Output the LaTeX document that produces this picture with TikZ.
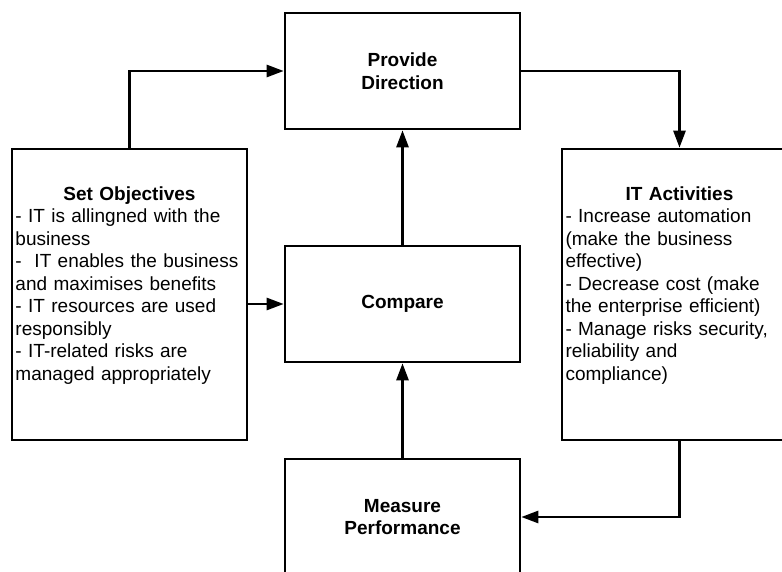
\documentclass[tikz,border=0pt]{standalone}
\RequirePackage{fontspec}
\setmainfont{Liberation Sans}
\RequirePackage{tikz}
\usetikzlibrary{arrows.meta}
\hyphenpenalty=10000

\begin{document}
\begin{tikzpicture}[x=1pt,y=-1pt,
                box/.style={draw,line width=2.6pt,minimum width=235pt,minimum height=116pt,
                    inner sep=3.5pt,align=center,font=\fontsize{19}{22.5}\selectfont\bfseries},
                tallbox/.style={draw,line width=2.6pt,minimum height=291pt,text width=228pt,
                    inner sep=3.5pt,align=left,font=\fontsize{19}{22.5}\selectfont},
                arr/.style={line width=2.6pt,-{Triangle[length=17pt,width=12pt]}}]
                \useasboundingbox (0,0) rectangle (782,572);
                \clip (0,0) rectangle (782,572);

                \foreach \N/\y/\T in{provide/71/{Provide\\Direction},compare/304/{Compare},measure/517/{Measure\\Performance}}
                {
                    \node[box] (\N) at (402.5,\y) {\T};
                }

                \node[tallbox] (setobj) at (129.5,294.5) {\hfill\textbf{Set Objectives}\hfill\null\\
                    - IT is allingned with the\\
                    business\\
                    -\ \ IT enables the business\\
                    and maximises benefits\\
                    - IT resources are used\\
                    responsibly\\
                    - IT-related risks are\\
                    managed appropriately\\
                    \null};
                \node[tallbox] (itact) at (679.5,294.5) {\hfill\textbf{IT Activities}\hfill\null\\
                    - Increase automation\\
                    (make the business\\
                    effective)\\
                    - Decrease cost (make\\
                    the enterprise efficient)\\
                    - Manage risks security,\\
                    reliability and\\
                    compliance)\\
                    \null};

                \draw[arr] (setobj.north) |- (provide.west);
                \draw[arr] (provide.east) -| (itact.north);
                \draw[arr] (itact.south) |- (measure.east);
                \draw[arr] (measure.north) -- (compare.south);
                \draw[arr] (compare.north) -- (provide.south);
                \draw[arr] (setobj.east |- compare.west) -- (compare.west);
            \end{tikzpicture}
\end{document}
